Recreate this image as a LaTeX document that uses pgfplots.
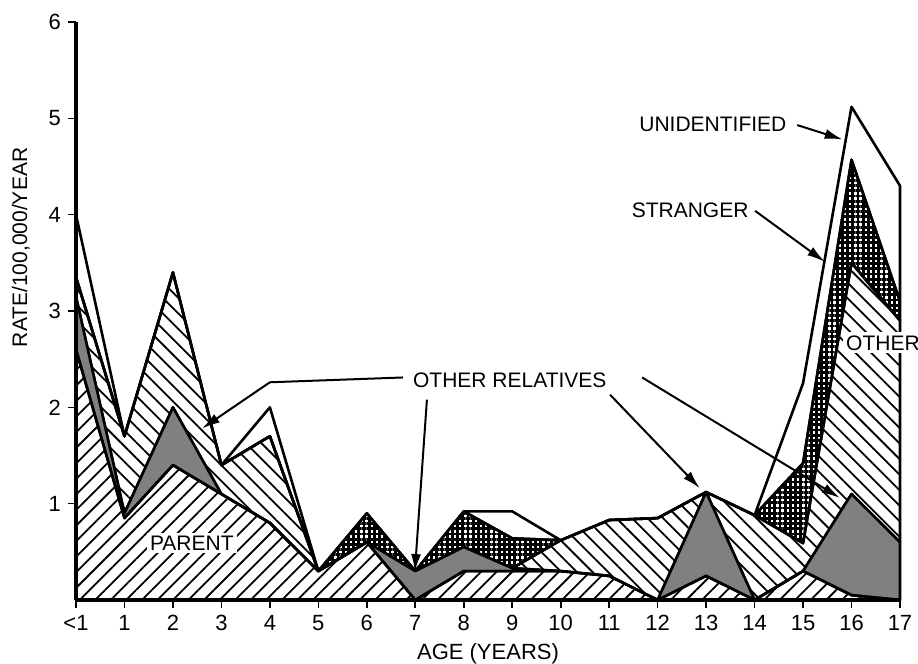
\documentclass[border=0pt]{standalone}
\usepackage{fontspec}
\setmainfont{Liberation Sans}
\usepackage{pgfplots}
\usepackage{pgfplotstable}
\pgfplotsset{compat=1.18}
\usetikzlibrary{patterns.meta, arrows.meta}

% increments of the stacked layers: parent, other relatives, other, stranger, unidentified
\pgfplotstableread{
x   P     OR    OT    ST    UN
0   2.60  0.55  0.20  0.00  0.65
1   0.85  0.05  0.80  0.00  0.00
2   1.40  0.60  1.40  0.00  0.00
3   1.10  0.00  0.30  0.00  0.00
4   0.80  0.00  0.90  0.00  0.30
5   0.30  0.00  0.00  0.00  0.00
6   0.60  0.00  0.00  0.30  0.00
7   0.00  0.30  0.00  0.00  0.00
8   0.30  0.25  0.00  0.37  0.00
9   0.30  0.03  0.00  0.31  0.28
10  0.30  0.00  0.32  0.00  0.00
11  0.25  0.00  0.58  0.00  0.00
12  0.00  0.00  0.85  0.00  0.00
13  0.25  0.87  0.00  0.00  0.00
14  0.00  0.00  0.88  0.00  0.00
15  0.30  0.00  0.29  0.83  0.83
16  0.05  1.05  2.40  1.07  0.55
17  0.00  0.60  2.30  0.20  1.20
}\data

\begin{document}
\begin{tikzpicture}
\path[use as bounding box] (-38pt,-32pt) rectangle (421pt,300pt);
\begin{axis}[
  at={(0,0)}, anchor=south west,
  scale only axis, width=412pt, height=289pt,
  xmin=0, xmax=17, ymin=0, ymax=6,
  axis lines*=left,
  axis line style={-},
  x axis line style={line width=1.6pt},
  y axis line style={line width=2pt},
  xtick={0,...,17},
  xticklabels={<1,1,2,3,4,5,6,7,8,9,10,11,12,13,14,15,16,17},
  ytick={1,2,3,4,5,6},
  tick align=outside,
  major tick length=4pt,
  tick style={line width=0.8pt, black},
  tick label style={font=\fontsize{11}{13}\selectfont},
  /pgf/number format/assume math mode=true,
  axis on top,
  clip=false,
  stack plots=y,
  every axis plot/.append style={draw=black, line width=1.3pt, line join=round},
]
\addplot[pattern={Lines[angle=45,distance=5.5pt,line width=0.9pt]}] table[x=x,y=P]{\data} \closedcycle;
\addplot[fill=black!50] table[x=x,y=OR]{\data} \closedcycle;
\addplot[pattern={Lines[angle=-45,distance=5.5pt,line width=0.9pt]}] table[x=x,y=OT]{\data} \closedcycle;
\addplot[pattern={Hatch[angle=0,distance=2.6pt,line width=1.4pt]}] table[x=x,y=ST]{\data} \closedcycle;
\addplot[fill=white] table[x=x,y=UN]{\data} \closedcycle;

\coordinate (lparent) at (axis cs:2.39,0.59);
\coordinate (lorel) at (axis cs:8.95,2.28);
\coordinate (lother) at (axis cs:15.82,2.67);
\coordinate (lunid) at (axis cs:13.14,4.94);
\coordinate (lstr) at (axis cs:12.67,4.05);
\coordinate (a1) at (axis cs:6.75,2.31);
\coordinate (a1b) at (axis cs:4.0,2.26);
\coordinate (a1c) at (axis cs:2.6,1.78);
\coordinate (a2) at (axis cs:7.24,2.08);
\coordinate (a2t) at (axis cs:6.99,0.29);
\coordinate (a3) at (axis cs:11.02,2.13);
\coordinate (a3t) at (axis cs:12.87,1.16);
\coordinate (a4) at (axis cs:11.68,2.31);
\coordinate (a4t) at (axis cs:15.76,1.06);
\coordinate (a5) at (axis cs:14.88,4.93);
\coordinate (a5t) at (axis cs:15.82,4.78);
\coordinate (a6) at (axis cs:14.01,4.04);
\coordinate (a6t) at (axis cs:15.45,3.51);
\coordinate (ylab) at (axis cs:-1.14,3.66);
\coordinate (xlab) at (axis cs:8.5,-0.56);
\end{axis}

\begin{scope}[font=\fontsize{10.5}{12}\selectfont]
\node[fill=white, inner sep=1.5pt] at (lparent) {PARENT};
\node[fill=white, inner sep=1pt] at (lorel) {OTHER RELATIVES};
\node[fill=white, inner sep=1.5pt, anchor=west] at (lother) {OTHER};
\node at (lunid) {UNIDENTIFIED};
\node at (lstr) {STRANGER};
\node[rotate=90] at (ylab) {RATE/100,000/YEAR};
\end{scope}
\node[font=\fontsize{11}{13}\selectfont] at (xlab) {AGE (YEARS)};

\begin{scope}[line width=1pt, -{Latex[length=9pt,width=5pt]}]
\draw (a1) -- (a1b) -- (a1c);
\draw (a2) -- (a2t);
\draw (a3) -- (a3t);
\draw (a4) -- (a4t);
\draw (a5) -- (a5t);
\draw (a6) -- (a6t);
\end{scope}
\end{tikzpicture}
\end{document}
